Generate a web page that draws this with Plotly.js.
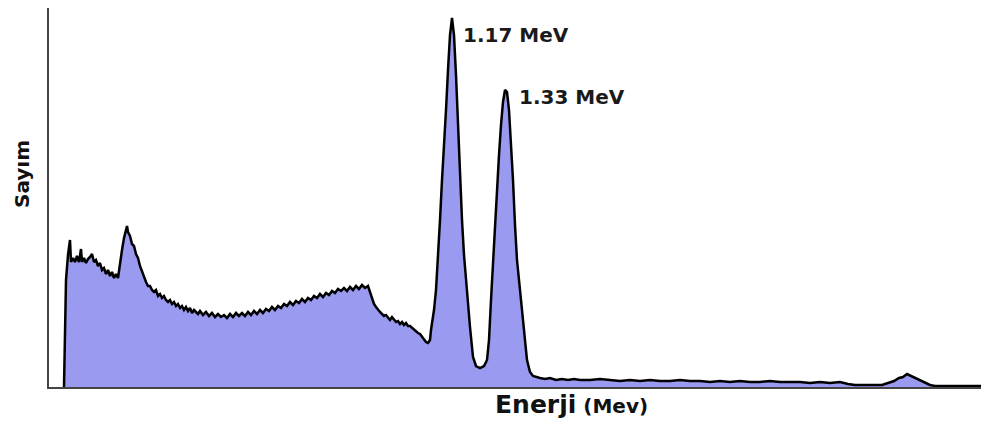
<!DOCTYPE html>
<html>
<head>
<meta charset="utf-8">
<script src="https://cdn.plot.ly/plotly-3.0.1.min.js"></script>
<style>html,body{margin:0;padding:0;background:#fff;}#chart{width:981px;height:421px;}</style>
</head>
<body>
<div id="chart"></div>
<script>
// Co-60 gamma spectrum (channel, counts)
const channel = [
  7,8,9,11,13,14,16,18,20,22,24,25,27,29,31,33,35,37,39,41,43,45,47,49,51,53,55,57,59,61,
  63,65,67,69,70,71,73,75,77,79,81,83,85,87,89,91,93,95,97,99,101,103,105,107,109,111,113,115,117,119,
  121,123,125,127,129,131,133,135,137,139,141,143,146,149,152,155,158,161,164,167,170,173,176,179,182,185,188,191,194,197,
  200,203,206,209,212,215,218,221,224,227,230,233,236,239,242,245,248,251,254,257,260,263,266,269,272,275,278,281,284,287,
  290,293,296,299,302,305,308,311,313,315,317,319,321,323,325,327,329,331,333,335,337,339,341,343,345,347,349,351,353,355,
  357,359,361,363,365,367,369,371,373,
  374,377,379,381,383,385,387,389,391,393,395,397,399,401,403,405,407,409,411,413,416,419,423,427,430,
  432,434,436,438,440,442,444,446,448,450,452,454,456,458,460,463,465,468,470,473,476,483,
  488,493,499,505,511,517,523,533,543,553,563,573,583,593,603,613,623,633,643,653,663,673,683,693,703,713,723,733,743,753,
  763,773,783,791,798,808,818,825,831,837,842,846,850,854,858,863,868,873,878,888,898,908,918,924
];
const counts = [
  0,52,107,132,147,125,129,125,131,125,138,125,129,124,128,130,133,125,127,121,124,117,119,113,117,111,115,109,113,109,
  125,137,149,159,161,155,151,143,141,133,129,121,115,111,105,101,101,97,95,97,91,93,89,91,87,85,87,83,85,81,
  83,79,81,77,80,76,79,74,77,75,73,76,72,75,71,74,70,73,70,72,69,73,70,74,71,74,71,75,72,76,
  73,77,74,78,76,80,77,81,79,83,81,85,82,86,84,88,85,89,87,91,89,93,90,94,92,96,94,98,96,99,
  96,100,97,101,98,102,99,101,95,89,83,80,77,75,73,71,72,69,67,70,67,65,66,63,65,62,64,61,61,59,
  57,56,54,53,50,48,45,44,47,
  57,77,97,127,167,207,237,277,317,352,369,352,312,257,207,167,132,107,82,60,30,21,19,21,27,
  47,87,127,162,197,232,262,285,297,295,277,247,207,162,127,97,77,42,27,15,11,9,
  8,9,7,8,7,8,7,7,8,7,6,7,6,7,6,6,7,6,6,5,6,5,6,5,5,6,5,5,5,4,
  5,4,5,3,2,2,2,2,4,6,9,10,13,11,9,7,4,2,1,1,1,1,1,1
];
const peakLabels = ["1.17 MeV", "1.33 MeV"];
const peakWindows = [[380, 420], [435, 470]];
const xTitle = "Enerji";
const xUnit = "(Mev)";
const yTitle = "Sayım";

function peakOf(win) {
  let best = -1, bi = 0;
  for (let i = 0; i < channel.length; i++) {
    if (channel[i] >= win[0] && channel[i] <= win[1] && counts[i] > best) { best = counts[i]; bi = i; }
  }
  return [channel[bi], counts[bi]];
}
const p1 = peakOf(peakWindows[0]);
const p2 = peakOf(peakWindows[1]);

const trace = {
  x: channel, y: counts, type: 'scatter', mode: 'lines',
  line: {color: '#000000', width: 2.5},
  fill: 'tozeroy', fillcolor: '#9a9af0',
  hoverinfo: 'skip'
};

const labelFont = {family: 'DejaVu Sans', size: 20, color: '#1a1a1a'};

const layout = {
  width: 981, height: 421,
  margin: {l: 49, r: 0, t: 8, b: 34},
  paper_bgcolor: '#ffffff', plot_bgcolor: '#ffffff',
  showlegend: false,
  xaxis: {range: [-8, 924], showline: true, linecolor: '#444', linewidth: 2,
          showgrid: false, zeroline: false, showticklabels: false, ticks: ''},
  yaxis: {range: [0, 379], showline: true, linecolor: '#444', linewidth: 2,
          showgrid: false, zeroline: false, showticklabels: false, ticks: ''},
  annotations: [
    {x: p1[0], y: p1[1], xref: 'x', yref: 'y', text: '<b>' + peakLabels[0] + '</b>', showarrow: false,
     xanchor: 'left', yanchor: 'middle', xshift: 9, yshift: -17, font: labelFont},
    {x: p2[0], y: p2[1], xref: 'x', yref: 'y', text: '<b>' + peakLabels[1] + '</b>', showarrow: false,
     xanchor: 'left', yanchor: 'middle', xshift: 12, yshift: -7, font: labelFont},
    {x: 0.561, y: -0.045, xref: 'paper', yref: 'paper', showarrow: false, xanchor: 'center', yanchor: 'middle',
     text: '<b>' + xTitle + '</b><b><span style="font-size:20px"> ' + xUnit + '</span></b>',
     font: {family: 'DejaVu Sans', size: 25, color: '#111'}},
    {x: -0.029, y: 0.562, xref: 'paper', yref: 'paper', showarrow: false, xanchor: 'center', yanchor: 'middle',
     textangle: -90, text: '<b>' + yTitle + '</b>', font: {family: 'DejaVu Sans', size: 20, color: '#111'}}
  ]
};

Plotly.newPlot('chart', [trace], layout, {staticPlot: true, displayModeBar: false});
</script>
</body>
</html>
